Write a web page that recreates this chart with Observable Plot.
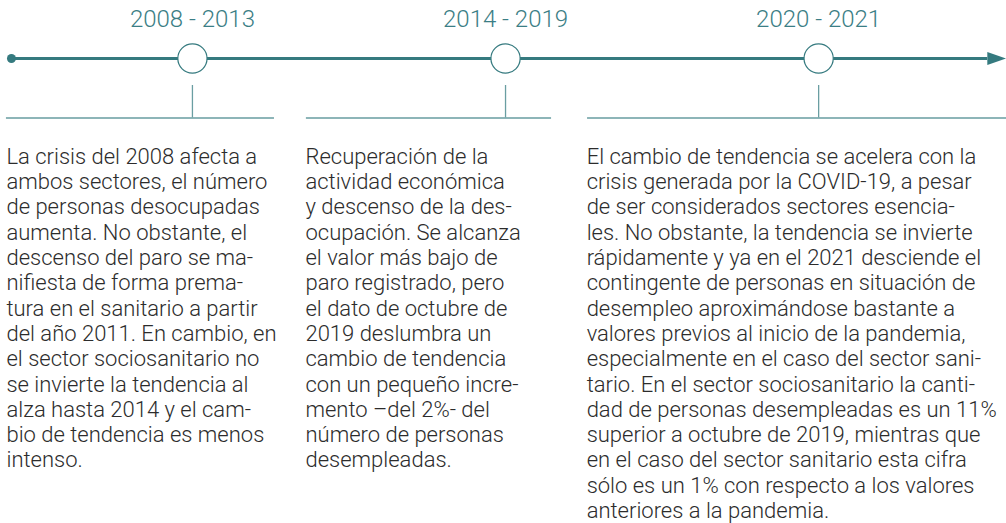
<!DOCTYPE html>
<html>
<head>
<meta charset="utf-8">
<script src="https://cdn.jsdelivr.net/npm/d3@7"></script>
<script src="https://cdn.jsdelivr.net/npm/@observablehq/plot@0.6"></script>
<style>
  html, body { margin: 0; padding: 0; background: #fff; }
</style>
</head>
<body>
<div id="chart"></div>
<script>
// ---- data ----
const periods = ["2008 - 2013", "2014 - 2019", "2020 - 2021"];

const descriptions = [
  "La crisis del 2008 afecta a\nambos sectores, el número\nde personas desocupadas\naumenta. No obstante, el\ndescenso del paro se ma-\nnifiesta de forma prema-\ntura en el sanitario a partir\ndel año 2011. En cambio, en\nel sector sociosanitario no\nse invierte la tendencia al\nalza hasta 2014 y el cam-\nbio de tendencia es menos\nintenso.",
  "Recuperación de la\nactividad económica\ny descenso de la des-\nocupación. Se alcanza\nel valor más bajo de\nparo registrado, pero\nel dato de octubre de\n2019 deslumbra un\ncambio de tendencia\ncon un pequeño incre-\nmento –del 2%- del\nnúmero de personas\ndesempleadas.",
  "El cambio de tendencia se acelera con la\ncrisis generada por la COVID-19, a pesar\nde ser considerados sectores esencia-\nles. No obstante, la tendencia se invierte\nrápidamente y ya en el 2021 desciende el\ncontingente de personas en situación de\ndesempleo aproximándose bastante a\nvalores previos al inicio de la pandemia,\nespecialmente en el caso del sector sani-\ntario. En el sector sociosanitario la canti-\ndad de personas desempleadas es un 11%\nsuperior a octubre de 2019, mientras que\nen el caso del sector sanitario esta cifra\nsólo es un 1% con respecto a los valores\nanteriores a la pandemia."
];

// ---- layout (timeline units: period i sits at i) ----
const W = 1006, H = 523;
const xDomain = [-0.613, 2.6];
const columnStart = [-0.594, 0.364, 1.262];
const columnEnd = [0.262, 1.147, 2.6];
const textStart = [-0.594, 0.361, 1.259];
const axisStart = -0.578, axisEnd = 2.54, arrowAt = 2.569;
const yTitle = 9, yAxis = 58, yTickTop = 85, yRule = 117.5, yText = 145.4;

const teal = "#357a7f";
const titleTeal = "#3b7e85";
const lightTeal = "#8db5b8";
const tickTeal = "#6a9ea2";
const textColor = "#2c2c2c";

const events = periods.map((p, i) => ({
  period: p, index: i, text: descriptions[i],
  x1: columnStart[i], x2: columnEnd[i], tx: textStart[i]
}));

const arrowHead = {
  draw(context) {
    context.moveTo(9.5, 0);
    context.lineTo(-9.5, -6.5);
    context.lineTo(-9.5, 6.5);
    context.closePath();
  }
};

const chart = Plot.plot({
  width: W,
  height: H,
  margin: 0,
  x: { type: "linear", domain: xDomain, range: [0, W], axis: null },
  y: { type: "linear", domain: [0, H], range: [0, H], axis: null },
  style: { background: "#fff" },
  marks: [
    Plot.ruleY(events, { y: () => yRule, x1: "x1", x2: "x2", stroke: lightTeal, strokeWidth: 2 }),
    Plot.ruleX(events, { x: "index", y1: () => yTickTop, y2: () => yRule, stroke: tickTeal, strokeWidth: 1.3 }),
    Plot.ruleY([yAxis], { x1: axisStart, x2: axisEnd, stroke: teal, strokeWidth: 3 }),
    Plot.dot([axisStart], { x: d => d, y: () => yAxis, r: 4.5, fill: teal }),
    Plot.dot([arrowAt], { x: d => d, y: () => yAxis, symbol: arrowHead, fill: teal, stroke: "none" }),
    Plot.dot(events, { x: "index", y: () => yAxis, r: 14.6, fill: "#fff", stroke: teal, strokeWidth: 1.2 }),
    Plot.text(events, {
      x: "index", y: () => yTitle, text: "period",
      lineAnchor: "top", textAnchor: "middle",
      fontSize: 24, fontFamily: "Roboto", fontWeight: 300, fill: titleTeal
    }),
    Plot.text(events, {
      x: "tx", y: () => yText, text: "text",
      lineAnchor: "top", textAnchor: "start", lineHeight: 1.15,
      fontSize: 22, fontFamily: "Roboto", fontWeight: 300, fill: textColor
    })
  ]
});

document.getElementById("chart").appendChild(chart);
</script>
</body>
</html>
